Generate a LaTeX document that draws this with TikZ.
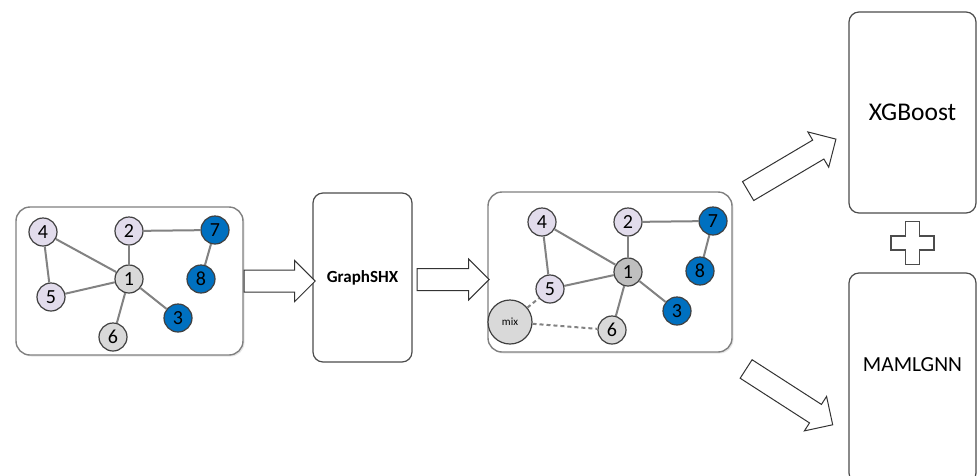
\documentclass[tikz,border=0pt]{standalone}
\usepackage{fontspec}
\setmainfont{Carlito}
\usetikzlibrary{arrows.meta, positioning, shapes.arrows, shadows, calc}
\definecolor{lilac}{RGB}{226,220,236}
\definecolor{ltgray}{RGB}{217,217,217}
\definecolor{mdgray}{RGB}{191,191,191}
\definecolor{nodeblue}{RGB}{0,112,192}
\definecolor{edgegray}{RGB}{130,130,130}

\begin{document}
\begin{tikzpicture}[x=1pt, y=-1pt,
  frame/.style={draw=black!50, line width=1.4pt, rounded corners=14pt, fill=white,
    drop shadow={opacity=0.2, shadow xshift=1.5pt, shadow yshift=-1.5pt}},
  model/.style={draw=black!70, line width=1.2pt, rounded corners=10pt, fill=white},
  vtx/.style={circle, draw=black!75, line width=1.2pt, minimum size=28pt, inner sep=0pt, font=\fontsize{20}{20}\selectfont},
  lav/.style={vtx, fill=lilac},
  lgr/.style={vtx, fill=ltgray},
  mgr/.style={vtx, fill=mdgray},
  blu/.style={vtx, fill=nodeblue},
  link/.style={draw=edgegray, line width=2pt},
  blockarrow/.style={shape=single arrow, draw=black!80, fill=white, line width=1pt,
    inner xsep=0pt, inner ysep=10.5pt, single arrow head extend=9.5pt,
    single arrow tip angle=90, anchor=tail}]
  \useasboundingbox (0,0) rectangle (978,475);

  % input graph
  \node[frame, minimum width=227pt, minimum height=148pt] (g1) at (129.5,281) {};
  \node[lav] (v4) at (43,232) {4};
  \node[lav] (v2) at (129,231) {2};
  \node[blu] (v7) at (215,230) {7};
  \node[blu] (v8) at (201,279) {8};
  \node[lgr] (v1) at (129,279) {1};
  \node[lav] (v5) at (51,297) {5};
  \node[blu] (v3) at (178,318) {3};
  \node[lgr] (v6) at (113,337) {6};
  \foreach \a/\b in {4/5, 4/1, 5/1, 2/1, 2/7, 7/8, 1/6, 1/3}
    \draw[link] (v\a) -- (v\b);

  \node[model, minimum width=99pt, minimum height=169pt, font=\fontsize{17}{17}\selectfont\bfseries] (shx) at (362.5,277.5) {GraphSHX};

  % augmented graph
  \node[frame, minimum width=244pt, minimum height=160pt] (g2) at (610,272) {};
  \node[lav] (w4) at (542,222) {4};
  \node[lav] (w2) at (628,222) {2};
  \node[blu] (w7) at (713,221) {7};
  \node[blu] (w8) at (700,271) {8};
  \node[mgr] (w1) at (628,272) {1};
  \node[lav] (w5) at (550,289) {5};
  \node[blu] (w3) at (677,311) {3};
  \node[lgr] (w6) at (612,330) {6};
  \node[lgr, minimum size=44pt, font=\fontsize{11}{11}\selectfont] (mix) at (510,322) {mix};
  \foreach \a/\b in {4/5, 4/1, 5/1, 2/1, 2/7, 7/8, 1/6, 1/3}
    \draw[link] (w\a) -- (w\b);
  \draw[link, dash pattern=on 4pt off 3pt] (mix) -- (w5);
  \draw[link, dash pattern=on 4pt off 3pt] (mix) -- (w6);

  \node[model, minimum width=127pt, minimum height=201pt] (xgb) at (912.5,112.5) {};
  \node[font=\fontsize{25.5}{25.5}\selectfont] (xgbtxt) at (xgb) {XGBoost};
  \node[model, minimum width=127pt, minimum height=210pt] (maml) at (912.5,378) {};
  \node[font=\fontsize{21.5}{21.5}\selectfont] (mamltxt) at ($(maml.north)+(0,92)$) {MAMLGNN};

  % block arrows
  \node[blockarrow, minimum height=71pt] (a1) at (g1.east) {};
  \node[blockarrow, minimum height=72pt] (a2) at ($(shx.east)+(4,2)$) {};
  \node[blockarrow, minimum height=102pt, rotate=30.6] (a3) at ($(g2.north east)+(15,0)$) {};
  \node[blockarrow, minimum height=103pt, rotate=-32.8] (a4) at ($(g2.south east)+(13,16)$) {};

  % plus sign
  \coordinate (plus) at ($(xgb.south)!0.5!(maml.north)$);
  \draw[draw=black!70, line width=1.2pt, fill=white, shift={(plus)}]
    (-7,-21.5) -- (7,-21.5) -- (7,-7) -- (21.5,-7) -- (21.5,7) -- (7,7) -- (7,21.5)
    -- (-7,21.5) -- (-7,7) -- (-21.5,7) -- (-21.5,-7) -- (-7,-7) -- cycle;
\end{tikzpicture}
\end{document}
